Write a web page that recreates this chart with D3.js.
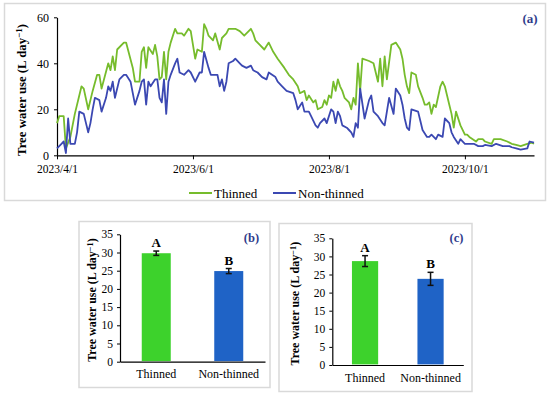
<!DOCTYPE html>
<html>
<head>
<meta charset="utf-8">
<script src="https://cdn.jsdelivr.net/npm/d3@7"></script>
<style>
  html, body { margin: 0; padding: 0; background: #fff; }
  text { font-family: 'Liberation Serif', 'DejaVu Serif', serif; }
</style>
</head>
<body>
<div id="chart"></div>
<script>
// Daily water use (day = days since 2023-04-01)
const thinnedDays = [0, 1, 3, 4, 6, 8, 11, 12, 14, 16, 18, 19, 20, 23, 24, 25, 26, 27, 30, 31, 34, 35, 37, 38, 39, 40, 41, 43, 44, 45, 46, 47, 48, 49, 50, 51, 53, 54, 56, 57, 59, 60, 62, 63, 65, 66, 67, 68, 70, 71, 73, 74, 76, 77, 80, 82, 84, 87, 88, 89, 91, 93, 95, 97, 99, 102, 104, 106, 108, 109, 111, 112, 113, 115, 116, 117, 119, 120, 121, 122, 123, 124, 125, 126, 127, 128, 129, 131, 132, 133, 134, 135, 136, 137, 140, 142, 143, 144, 145, 146, 147, 148, 150, 152, 154, 155, 156, 157, 158, 159, 161, 162, 164, 165, 166, 167, 168, 169, 170, 172, 173, 174, 175, 176, 177, 178, 179, 181, 183, 184, 185, 188, 189, 191, 192, 195, 196, 199, 202, 204, 206, 208, 211, 213, 214];
const thinnedValues = [14, 17, 17, 3, 8, 18, 30, 29, 20, 28, 35, 35, 29, 40, 37, 43, 37, 46, 49, 49, 38, 32, 32, 45, 47, 38, 47, 44, 48, 43, 33, 34, 45, 33, 45, 49, 55, 53, 53, 52, 55, 54, 42, 46, 45, 57, 55, 52, 50, 53, 46, 51, 53, 55, 55, 54, 52, 55, 53, 50, 48, 46, 49, 45, 42, 38, 35, 33, 30, 27, 28, 24, 26, 23, 24, 20, 21, 24, 22, 26, 25, 32, 28, 33, 30, 28, 25, 23, 20, 25, 22, 40, 28, 42, 41, 40, 36, 32, 42, 30, 43, 33, 48, 49, 46, 42, 35, 30, 27, 36, 35, 30, 25, 22, 22, 23, 18, 22, 21, 30, 32, 30, 26, 22, 18, 12, 19, 13, 9, 9, 8, 6, 7, 7, 6, 5, 7, 7, 6, 5, 4.5, 4, 5, 5.5, 5, 6, 4];

const nonThinnedDays = [0, 2, 3, 4, 5, 6, 8, 9, 10, 12, 13, 14, 15, 16, 17, 19, 20, 22, 23, 24, 25, 26, 28, 30, 31, 33, 34, 35, 37, 38, 39, 40, 41, 42, 44, 45, 46, 47, 48, 49, 50, 51, 53, 54, 55, 57, 59, 60, 62, 64, 65, 66, 68, 69, 72, 73, 74, 75, 76, 77, 79, 80, 82, 83, 85, 87, 88, 90, 92, 94, 95, 98, 99, 101, 103, 106, 107, 108, 110, 111, 113, 114, 116, 117, 118, 120, 121, 123, 124, 125, 126, 127, 128, 130, 131, 132, 133, 134, 135, 136, 138, 140, 141, 142, 144, 146, 147, 149, 151, 152, 154, 155, 156, 157, 158, 159, 162, 163, 164, 166, 167, 168, 170, 171, 173, 174, 176, 177, 178, 180, 181, 183, 185, 187, 189, 191, 192, 195, 197, 200, 203, 204, 206, 208, 211, 212, 214];
const nonThinnedValues = [3, 5, 6, 1, 16, 5, 5, 10, 19, 18, 14, 10, 14, 20, 25, 24, 19, 25, 30, 28, 32, 25, 33, 35, 35, 32, 27, 22, 28, 32, 33, 22, 32, 30, 33, 33, 25, 23, 33, 18, 32, 35, 40, 42, 36, 35, 37, 36, 32, 36, 36, 45, 38, 35, 35, 30, 33, 28, 32, 40, 41, 42, 40, 39, 38, 39, 37, 36, 34, 33, 36, 34, 32, 30, 28, 27, 24, 20, 23, 19, 19, 17, 13, 12, 14, 16, 14, 20, 19, 14, 19, 17, 13, 12, 11, 10, 8, 14, 12, 29, 16, 24, 26, 19, 17, 14, 13, 25, 18, 29, 26, 22, 16, 12, 11, 20, 19, 15, 11, 8, 8, 9, 7, 9, 8, 16, 14, 10, 8, 5, 7, 5, 5, 5, 4, 4, 4.5, 4, 5, 4, 4, 3.5, 3, 2.5, 3, 6, 5.5, 5, 7, 4];

// Seasonal means with error bars, panels (b) and (c)
const groups = ['Thinned', 'Non-thinned'];
const meansB = [29.8, 24.9];
const errorsB = [0.6, 0.7];
const meansC = [28.7, 23.8];
const errorsC = [1.5, 1.8];
const letters = ['A', 'B'];
const barTicks = [0, 5, 10, 15, 20, 25, 30, 35];

const greenLine = '#76bc2c';
const blueLine = '#3b48b2';
const barColors = ['#3dd22c', '#1f63c6'];
const labelBlue = '#2f3c8c';

const startDate = new Date(2023, 3, 1);
const dayToDate = (day) => d3.timeDay.offset(startDate, day);

const svg = d3
  .select('#chart')
  .append('svg')
  .attr('width', 550)
  .attr('height', 394);

// ---------- Panel (a) ----------
svg
  .append('rect')
  .attr('x', 4.5)
  .attr('y', 3.5)
  .attr('width', 541)
  .attr('height', 197)
  .attr('fill', 'none')
  .attr('stroke', '#d9d9d9')
  .attr('stroke-width', 1.5);

const x = d3
  .scaleTime()
  .domain([startDate, new Date(2023, 10, 1)])
  .range([57, 534]);
const y = d3.scaleLinear().domain([0, 60]).range([155.3, 17.3]);

const xAxis = svg
  .append('g')
  .attr('transform', `translate(0, ${y(0)})`)
  .call(
    d3
      .axisBottom(x)
      .tickValues([
        new Date(2023, 3, 1),
        new Date(2023, 5, 1),
        new Date(2023, 7, 1),
        new Date(2023, 9, 1),
      ])
      .tickFormat(d3.timeFormat('%Y/%-m/%-d'))
      .tickSize(4)
      .tickSizeOuter(0)
  );
xAxis.selectAll('text').attr('dy', '0.9em').style('font-size', '11.5px');

const yAxis = svg
  .append('g')
  .attr('transform', `translate(${x(startDate)}, 0)`)
  .call(d3.axisLeft(y).tickValues([0, 20, 40, 60]).tickSize(3).tickSizeOuter(0));
yAxis.selectAll('text').attr('x', -8).style('font-size', '12px');

[xAxis, yAxis].forEach((g) => {
  g.select('.domain').attr('stroke', '#000').attr('stroke-width', 1.2);
  g.selectAll('.tick line').attr('stroke', '#000');
  g.selectAll('text').attr('fill', '#000');
});

const line = d3
  .line()
  .x((d) => x(dayToDate(d[0])))
  .y((d) => y(d[1]));

svg
  .append('path')
  .datum(thinnedDays.map((d, i) => [d, thinnedValues[i]]))
  .attr('d', line)
  .attr('fill', 'none')
  .attr('stroke', greenLine)
  .attr('stroke-width', 1.8)
  .attr('stroke-linejoin', 'round');

svg
  .append('path')
  .datum(nonThinnedDays.map((d, i) => [d, nonThinnedValues[i]]))
  .attr('d', line)
  .attr('fill', 'none')
  .attr('stroke', blueLine)
  .attr('stroke-width', 1.8)
  .attr('stroke-linejoin', 'round');

const yTitle = (g, cx, cy, size) => {
  const t = g
    .append('text')
    .attr('transform', `translate(${cx}, ${cy}) rotate(-90)`)
    .attr('text-anchor', 'middle')
    .style('font-weight', 'bold')
    .style('font-size', size)
    .text('Tree water use (L day');
  t.append('tspan').attr('dy', '-0.4em').style('font-size', '0.7em').text('−1');
  t.append('tspan').attr('dy', '0.28em').text(')');
};
yTitle(svg, 26, 90, '12.8px');

svg
  .append('text')
  .attr('x', 530)
  .attr('y', 23)
  .attr('text-anchor', 'middle')
  .style('font-weight', 'bold')
  .style('font-size', '13px')
  .attr('fill', labelBlue)
  .text('(a)');

// legend
const legend = svg.append('g').attr('transform', 'translate(0, 193)');
[
  { name: 'Thinned', color: greenLine, x0: 189 },
  { name: 'Non-thinned', color: blueLine, x0: 273 },
].forEach((item) => {
  legend
    .append('line')
    .attr('x1', item.x0)
    .attr('x2', item.x0 + 23)
    .attr('stroke', item.color)
    .attr('stroke-width', 2);
  legend
    .append('text')
    .attr('x', item.x0 + 25)
    .attr('dy', '0.35em')
    .style('font-size', '13px')
    .text(item.name);
});

// ---------- Panels (b) and (c) ----------
const barPanel = (opt) => {
  svg
    .append('rect')
    .attr('x', opt.box[0])
    .attr('y', opt.box[1])
    .attr('width', opt.box[2])
    .attr('height', opt.box[3])
    .attr('fill', 'none')
    .attr('stroke', '#d9d9d9')
    .attr('stroke-width', 1.5);

  const bx = d3.scaleBand().domain(groups).range(opt.xRange).paddingInner(0.6).paddingOuter(0.3);
  const by = d3.scaleLinear().domain([0, 35]).range(opt.yRange);

  const gx = svg
    .append('g')
    .attr('transform', `translate(0, ${by(0)})`)
    .call(d3.axisBottom(bx).tickSize(0).tickSizeOuter(0).tickPadding(8));
  gx.selectAll('text').style('font-size', '12px').attr('fill', '#000');

  const gy = svg
    .append('g')
    .attr('transform', `translate(${opt.xRange[0]}, 0)`)
    .call(d3.axisLeft(by).tickValues(barTicks).tickSize(3).tickSizeOuter(0).tickPadding(4));
  gy.selectAll('text').style('font-size', '11.5px').attr('fill', '#000');

  [gx, gy].forEach((g) => {
    g.select('.domain').attr('stroke', '#000').attr('stroke-width', 1.2);
    g.selectAll('.tick line').attr('stroke', '#000');
  });

  svg
    .selectAll(null)
    .data(groups)
    .enter()
    .append('rect')
    .attr('x', (d) => bx(d))
    .attr('y', (d, i) => by(opt.means[i]))
    .attr('width', bx.bandwidth())
    .attr('height', (d, i) => by(0) - by(opt.means[i]) - 0.6)
    .attr('fill', (d, i) => barColors[i]);

  const err = svg
    .selectAll(null)
    .data(groups)
    .enter()
    .append('g')
    .attr('transform', (d) => `translate(${bx(d) + bx.bandwidth() / 2}, 0)`)
    .attr('stroke', '#111')
    .attr('stroke-width', 1.5);
  err
    .append('line')
    .attr('y1', (d, i) => by(opt.means[i] - opt.errors[i]))
    .attr('y2', (d, i) => by(opt.means[i] + opt.errors[i]));
  err
    .append('line')
    .attr('x1', -3)
    .attr('x2', 3)
    .attr('y1', (d, i) => by(opt.means[i] + opt.errors[i]))
    .attr('y2', (d, i) => by(opt.means[i] + opt.errors[i]));
  err
    .append('line')
    .attr('x1', -3)
    .attr('x2', 3)
    .attr('y1', (d, i) => by(opt.means[i] - opt.errors[i]))
    .attr('y2', (d, i) => by(opt.means[i] - opt.errors[i]));

  svg
    .selectAll(null)
    .data(groups)
    .enter()
    .append('text')
    .attr('x', (d) => bx(d) + bx.bandwidth() / 2)
    .attr('y', (d, i) => by(opt.means[i] + opt.errors[i]) - 4)
    .attr('text-anchor', 'middle')
    .style('font-weight', 'bold')
    .style('font-size', '13px')
    .text((d, i) => letters[i]);

  svg
    .append('text')
    .attr('x', opt.tag[0])
    .attr('y', opt.tag[1])
    .attr('text-anchor', 'middle')
    .style('font-weight', 'bold')
    .style('font-size', '12.5px')
    .attr('fill', labelBlue)
    .text(opt.label);

  yTitle(svg, opt.titleX, (opt.yRange[0] + opt.yRange[1]) / 2 + 2, '12px');
};

barPanel({
  box: [79, 221.5, 191, 166],
  xRange: [120, 265],
  yRange: [361.7, 234.3],
  means: meansB,
  errors: errorsB,
  tag: [251.5, 242],
  label: '(b)',
  titleX: 96,
});

barPanel({
  box: [279, 223.5, 193, 168],
  xRange: [332.3, 463.3],
  yRange: [365, 238.3],
  means: meansC,
  errors: errorsC,
  tag: [456.5, 242],
  label: '(c)',
  titleX: 299,
});
</script>
</body>
</html>
